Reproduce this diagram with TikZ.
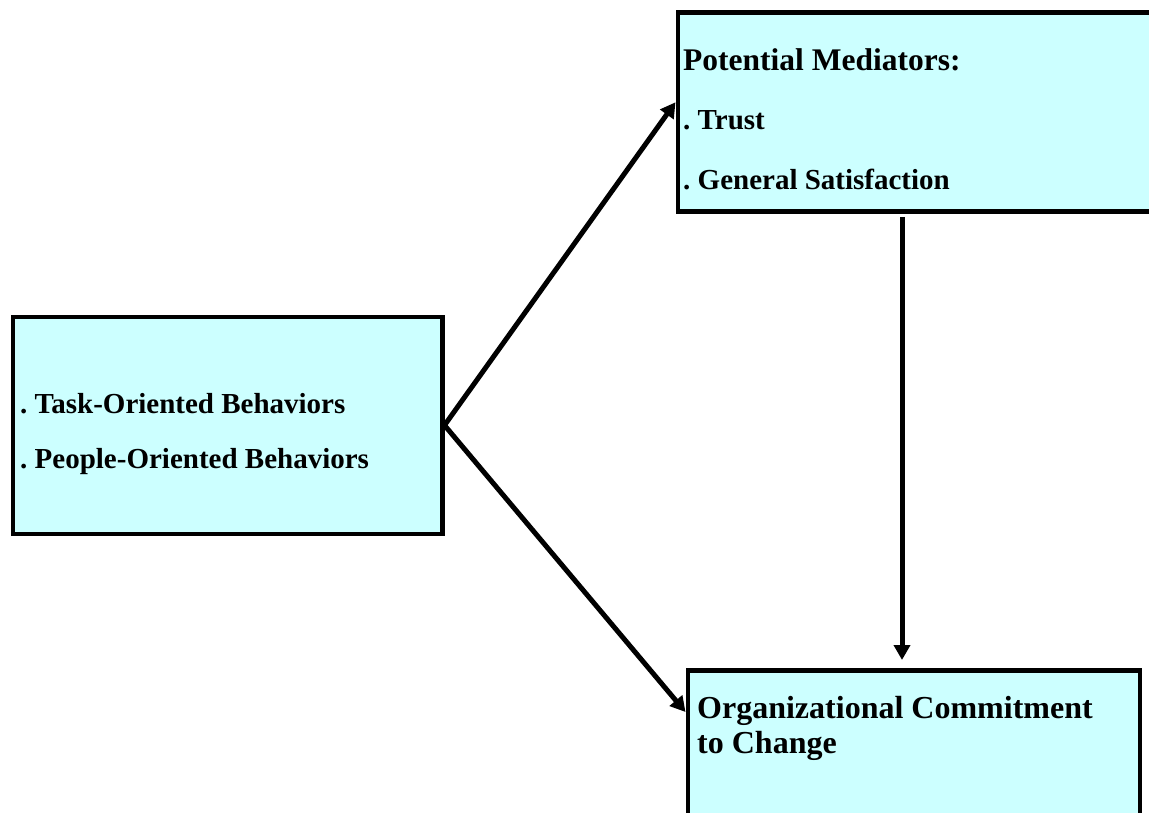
\documentclass[tikz,border=0pt]{standalone}
\usepackage{fontspec}
\setmainfont{Liberation Serif}
\usetikzlibrary{arrows.meta}
\frenchspacing

\begin{document}
\begin{tikzpicture}[x=1pt,y=-1pt]
\tikzstyle{box}=[rectangle,draw=black,line width=4.5pt,fill=boxcyan,anchor=north west,inner sep=0pt]
\tikzstyle{item}=[anchor=base west,inner sep=0pt,font=\bfseries\fontsize{29}{33}\selectfont]
\tikzstyle{head}=[anchor=base west,inner sep=0pt,font=\bfseries\fontsize{31.5}{35}\selectfont]
\tikzstyle{link}=[line width=5pt,-{Triangle[length=15pt,width=16pt]}]
\definecolor{boxcyan}{HTML}{CCFFFF}
\useasboundingbox (0,0) rectangle (1149,813);
\clip (0,0) rectangle (1149,813);
% boxes
\node [box,minimum width=429.5pt,minimum height=217pt] (behav) at (10.5,314.5) {};
\node [box,minimum width=500pt,minimum height=199pt] (medi) at (675.5,10.5) {};
\node [box,minimum width=452pt,minimum height=180pt] (goal) at (685.5,668) {};
% texts
\node [item] (task) at (20,413) {. Task-Oriented Behaviors};
\node [item] (people) at (20,468) {. People-Oriented Behaviors};
\node [head] (meditle) at (683,71) {Potential Mediators:};
\node [item] (trust) at (683,130) {. Trust};
\node [item] (satis) at (683,190) {. General Satisfaction};
\node [head,font=\bfseries\fontsize{32}{36}\selectfont] (goal1) at (697,718) {Organizational Commitment};
\node [head,font=\bfseries\fontsize{32}{36}\selectfont] (goal2) at (697,753) {to Change};
% arrows
\coordinate (drop) at (902,0);
\draw [link] (behav.east) -- ([yshift=10pt]medi.west);
\draw [link] (behav.east) -- ([yshift=-44pt]goal.north west);
\draw [link,shorten <=3pt,shorten >=8pt] (medi.south -| drop) -- (goal.north -| drop);
\end{tikzpicture}
\end{document}
